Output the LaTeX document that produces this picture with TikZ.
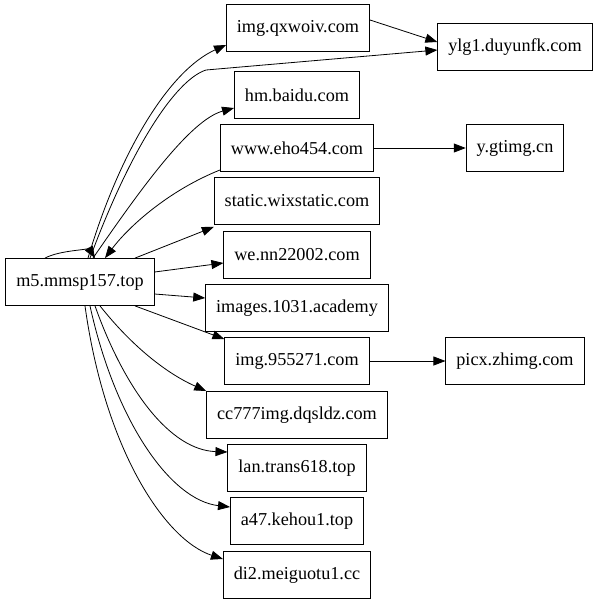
\documentclass[tikz,border=0pt]{standalone}
\usepackage{fontspec}
\setmainfont{Liberation Serif}
\usetikzlibrary{arrows.meta}
\begin{document}
\begin{tikzpicture}[x=1pt, y=-1pt,
    host/.style={draw, line width=0.8pt, minimum height=47pt, inner xsep=10.5pt, font=\fontsize{18.2}{20}\selectfont},
    link/.style={line width=0.8pt, -{Triangle[length=12pt,width=9pt]}}]
    \useasboundingbox (0,0) rectangle (597,605);

    % Define the positions of the hosts
    \coordinate (P0) at (80,282);
    \coordinate (P1) at (298,28);
    \coordinate (P2) at (515,47);
    \coordinate (P3) at (297,95);
    \coordinate (P4) at (297,148);
    \coordinate (P5) at (515,148);
    \coordinate (P6) at (297,201);
    \coordinate (P7) at (297,255);
    \coordinate (P8) at (297,308);
    \coordinate (P9) at (297,361);
    \coordinate (P10) at (515,361);
    \coordinate (P11) at (297,415);
    \coordinate (P12) at (297,468);
    \coordinate (P13) at (297,521);
    \coordinate (P14) at (297,575);

    % Place the hosts
    \node (m5) at (P0) [host] {m5.mmsp157.top};
    \node (qxwoiv) at (P1) [host] {img.qxwoiv.com};
    \node (duyunfk) at (P2) [host] {ylg1.duyunfk.com};
    \node (baidu) at (P3) [host] {hm.baidu.com};
    \node (eho) at (P4) [host] {www.eho454.com};
    \node (gtimg) at (P5) [host] {y.gtimg.cn};
    \node (wix) at (P6) [host] {static.wixstatic.com};
    \node (nn) at (P7) [host] {we.nn22002.com};
    \node (academy) at (P8) [host] {images.1031.academy};
    \node (img955) at (P9) [host] {img.955271.com};
    \node (zhimg) at (P10) [host] {picx.zhimg.com};
    \node (dqsldz) at (P11) [host] {cc777img.dqsldz.com};
    \node (trans) at (P12) [host] {lan.trans618.top};
    \node (kehou) at (P13) [host] {a47.kehou1.top};
    \node (meiguo) at (P14) [host] {di2.meiguotu1.cc};

    % Bend point of the long edge
    \coordinate (bend) at (206,70);

    % Edges leaving m5 upwards
    \draw[link] ([xshift=8pt]m5.north) .. controls (120,150) and (170,70) .. ([yshift=-17pt]qxwoiv.west);
    \draw[link] ([xshift=10pt]m5.north) .. controls (130,150) and (175,80) .. (bend) -- ([yshift=-3pt]duyunfk.west);
    \draw[link] ([xshift=13pt]m5.north) .. controls (140,190) and (190,120) .. ([yshift=-13pt]baidu.west);
    \draw[link] ([yshift=-22pt]eho.west) .. controls (170,190) and (130,225) .. ([xshift=25pt]m5.north);
    \draw[link] ([xshift=55pt]m5.north) -- ([yshift=-2pt]wix.south west);
    \draw[link] ([yshift=10pt]m5.east) -- ([yshift=-8pt]nn.west);
    \draw[link] ([yshift=-12pt]m5.east) -- ([yshift=10pt]academy.west);
    \draw[link] ([xshift=55pt]m5.south) -- ([yshift=-2pt]img955.north west);

    % Edges leaving m5 downwards
    \draw[link] ([xshift=20pt]m5.south) .. controls (135,350) and (170,375) .. ([yshift=24pt]dqsldz.west);
    \draw[link] ([xshift=15pt]m5.south) .. controls (125,390) and (170,450) .. ([yshift=16pt]trans.west);
    \draw[link] ([xshift=10pt]m5.south) .. controls (115,420) and (170,500) .. ([yshift=14pt]kehou.west);
    \draw[link] ([xshift=5pt]m5.south) .. controls (105,450) and (165,540) .. ([yshift=16pt]meiguo.west);

    % Self loop on m5
    \draw[link] ([xshift=-35pt]m5.north) .. controls (60,250) and (90,250) .. ([xshift=15pt]m5.north);

    % Edges between the other hosts
    \draw[link] ([yshift=8pt]qxwoiv.east) -- ([yshift=5pt]duyunfk.west);
    \draw[link] (eho) -- (gtimg);
    \draw[link] (img955) -- (zhimg);
\end{tikzpicture}
\end{document}
